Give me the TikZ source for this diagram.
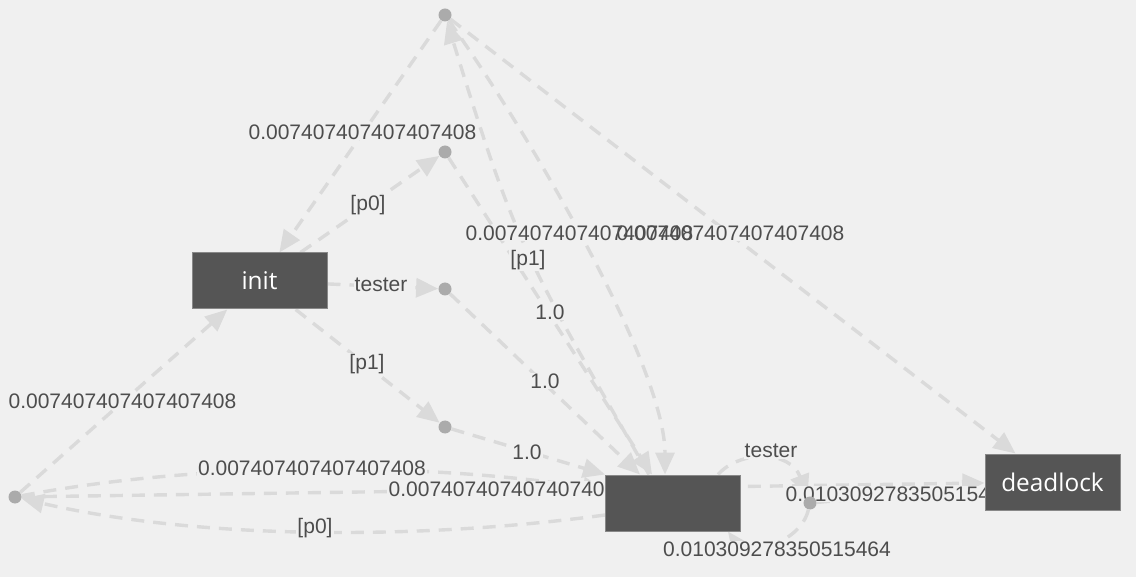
\documentclass[tikz,border=0pt]{standalone}
\usepackage{fontspec}
\setmainfont{Liberation Sans}
\newfontfamily\statefont{Open Sans}
\usetikzlibrary{arrows.meta}

\definecolor{bggray}{HTML}{F0F0F0}
\definecolor{edgegray}{HTML}{DADADA}
\definecolor{boxgray}{HTML}{555555}
\definecolor{dotgray}{HTML}{ABABAB}
\definecolor{labelgray}{HTML}{4D4D4D}

\pgfdeclarelayer{edges}
\pgfdeclarelayer{halo}
\pgfdeclarelayer{front}
\pgfsetlayers{edges,halo,main,front}

\tikzset{
  state/.style={rectangle, fill=boxgray, draw=boxgray!70!white, line width=0.5pt,
    minimum width=67.5pt, minimum height=28pt, inner sep=0pt, text=white,
    font=\statefont\fontsize{12.2}{14}\selectfont},
  act/.style={circle, fill=dotgray, inner sep=0pt, minimum size=6.5pt},
  trans/.style={draw=edgegray, line width=1.7pt, dash pattern=on 6.5pt off 4.5pt,
    -{Triangle[length=11pt,width=9.5pt]}},
  lbl/.style={text=labelgray, font=\fontsize{10.5}{12}\selectfont, inner sep=0.3pt},
}

\begin{document}
\begin{tikzpicture}[x=0.5pt,y=-0.5pt]
\useasboundingbox (0,0) rectangle (1136,577);

\begin{pgfonlayer}{front}
\node[state] (init) at (259.5,281) {init};
\node[state] (mid) at (673,503) {};
\node[state] (dead) at (1052.5,482) {deadlock};

\foreach \n/\x/\y in {a0/445/152,a1/445/289,a2/445/427,b0/15/497,b1/445/15,b2/810/503}
{
	\node[act] (\n) at (\x,\y) {};
}
\end{pgfonlayer}

\begin{pgfonlayer}{edges}
\fill[bggray] (0,0) rectangle (1136,577);

\draw[trans] (init) -- (a0);
\draw[trans] (init) -- (a1);
\draw[trans] (init) -- (a2);
\draw[trans] (a0) -- ([xshift=-10.5pt]mid.north);
\draw[trans] (a1) -- ([xshift=-16.5pt]mid.north);
\draw[trans] (a2) -- (mid.north west);

\draw[trans] ([xshift=-12pt]mid.north) .. controls (523,255) and (515,242) .. (b1);
\draw[trans] (b1) -- (init);
\draw[trans] (b1) .. controls (540,150) and (665,370) .. ([xshift=-4pt]mid.north);
\draw[trans] (b1) -- (dead);

\draw[trans] ([yshift=-6pt]mid.west) .. controls (420,540) and (200,540) .. (b0);
\draw[trans] (b0) -- (init);
\draw[trans] (b0) .. controls (200,462) and (420,462) .. ([yshift=6.5pt]mid.west);
\draw[trans] (b0) -- (dead);

\draw[trans] ([xshift=22.5pt]mid.north) .. controls (740,450) and (790,450) .. (b2);
\draw[trans] (b2) -- (dead);
\draw[trans] (b2) .. controls (800,545) and (745,555) .. ([xshift=-6.5pt]mid.south east);
\end{pgfonlayer}

\node[lbl] (l1) at (368,205) {[p0]};
\node[lbl] (l2) at (381,285) {tester};
\node[lbl] (l3) at (367,364) {[p1]};
\node[lbl] (l4) at (550,312) {1.0};
\node[lbl] (l5) at (545,381) {1.0};
\node[lbl] (l6) at (527,452) {1.0};
\node[lbl] (l7) at (362.5,132) {0.007407407407407408};
\node[lbl] (l8) at (579.5,233) {0.007407407407407408};
\node[lbl] (l9) at (730.5,233) {0.007407407407407408};
\node[lbl] (l10) at (528,260) {[p1]};
\node[lbl] (l11) at (122.5,401) {0.007407407407407408};
\node[lbl] (l12) at (312,468) {0.007407407407407408};
\node[lbl] (l13) at (502.5,489) {0.007407407407407408};
\node[lbl] (l14) at (315,528) {[p0]};
\node[lbl] (l15) at (771,451) {tester};
\node[lbl] (l16) at (899.5,494) {0.010309278350515464};
\node[lbl] (l17) at (777,549) {0.010309278350515464};

\begin{pgfonlayer}{halo}
\foreach \i in {1,...,17}
	\fill[bggray] (l\i.south west) rectangle (l\i.north east);
\end{pgfonlayer}

\end{tikzpicture}
\end{document}
